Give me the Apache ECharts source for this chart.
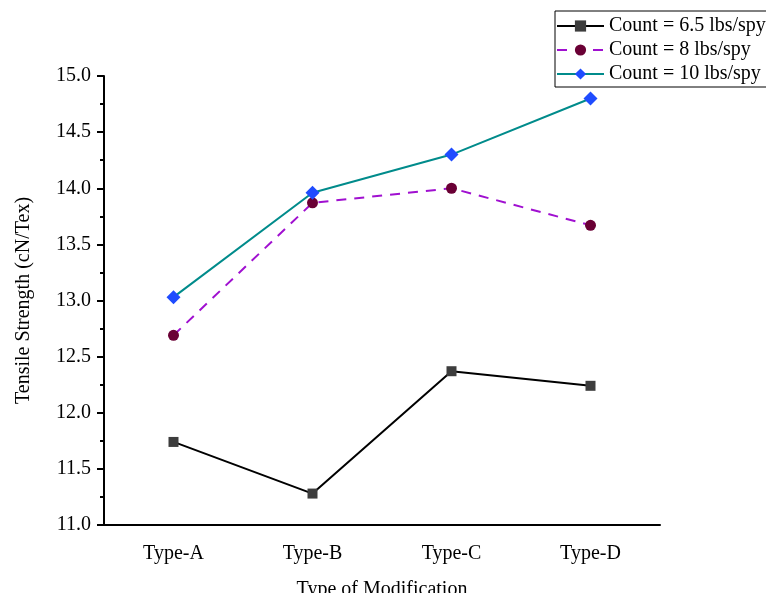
<!DOCTYPE html>
<html>
<head>
<meta charset="utf-8">
<script src="https://cdn.jsdelivr.net/npm/echarts@6/dist/echarts.min.js"></script>
<style>
  html, body { margin: 0; padding: 0; background: #fff; }
  #main { width: 766px; height: 593px; }
</style>
</head>
<body>
<div id="main"></div>
<script>
var categories = ['Type-A', 'Type-B', 'Type-C', 'Type-D'];
var count65 = [11.74, 11.28, 12.37, 12.24];
var count8 = [12.69, 13.87, 14.00, 13.67];
var count10 = [13.03, 13.96, 14.30, 14.80];
var seriesNames = ['Count = 6.5 lbs/spy', 'Count = 8 lbs/spy', 'Count = 10 lbs/spy'];

var font = 'Liberation Serif';
var chart = echarts.init(document.getElementById('main'));

var option = {
  backgroundColor: '#fff',
  textStyle: { fontFamily: font, color: '#000' },
  animation: false,
  legend: {
    left: 555,
    top: 11,
    orient: 'vertical',
    itemWidth: 47,
    itemHeight: 14,
    itemGap: 4,
    padding: [5, 6, 3, 1],
    borderColor: '#000',
    borderWidth: 1,
    textStyle: { fontFamily: font, fontSize: 20, color: '#000', lineHeight: 20 },
    data: seriesNames
  },
  grid: { left: 104, right: 106, top: 76, bottom: 68, outerBoundsMode: 'none' },
  xAxis: [
    {
      type: 'category',
      data: categories,
      boundaryGap: true,
      name: 'Type of Modification',
      nameLocation: 'middle',
      nameGap: 55,
      nameTextStyle: { fontFamily: font, fontSize: 20, color: '#000' },
      axisLine: { lineStyle: { color: '#000', width: 2 } },
      axisTick: { length: 5, lineStyle: { color: '#000', width: 2 } },
      axisLabel: { margin: 19, fontFamily: font, fontSize: 20, color: '#000' },
      splitLine: { show: false }
    },
    {
      type: 'category',
      data: categories,
      position: 'bottom',
      boundaryGap: true,
      axisLine: { show: false },
      axisTick: { alignWithLabel: true, length: 9, lineStyle: { color: '#000', width: 2 } },
      axisLabel: { show: false },
      splitLine: { show: false }
    }
  ],
  yAxis: {
    type: 'value',
    min: 11,
    max: 15,
    interval: 0.5,
    name: 'Tensile Strength (cN/Tex)',
    nameLocation: 'middle',
    nameGap: 70,
    nameTextStyle: { fontFamily: font, fontSize: 20, color: '#000' },
    axisLine: { show: true, lineStyle: { color: '#000', width: 2 } },
    axisTick: { show: true, length: 7, lineStyle: { color: '#000', width: 2 } },
    minorTick: { show: true, splitNumber: 2, length: 4, lineStyle: { color: '#000', width: 2 } },
    axisLabel: {
      margin: 13,
      fontFamily: font,
      fontSize: 20,
      color: '#000',
      formatter: function (v) { return v.toFixed(1); }
    },
    splitLine: { show: false }
  },
  series: [
    {
      name: seriesNames[0],
      type: 'line',
      data: count65,
      symbol: 'rect',
      symbolSize: 10,
      lineStyle: { color: '#000', width: 2 },
      itemStyle: { color: '#3d3d3d' }
    },
    {
      name: seriesNames[1],
      type: 'line',
      data: count8,
      symbol: 'circle',
      symbolSize: 11,
      lineStyle: { color: '#a010d0', width: 2, type: [10, 8] },
      itemStyle: { color: '#6a0035' }
    },
    {
      name: seriesNames[2],
      type: 'line',
      data: count10,
      symbol: 'diamond',
      symbolSize: 14,
      lineStyle: { color: '#008b8b', width: 2 },
      itemStyle: { color: '#1f4cff' }
    }
  ]
};

chart.setOption(option);
</script>
</body>
</html>
